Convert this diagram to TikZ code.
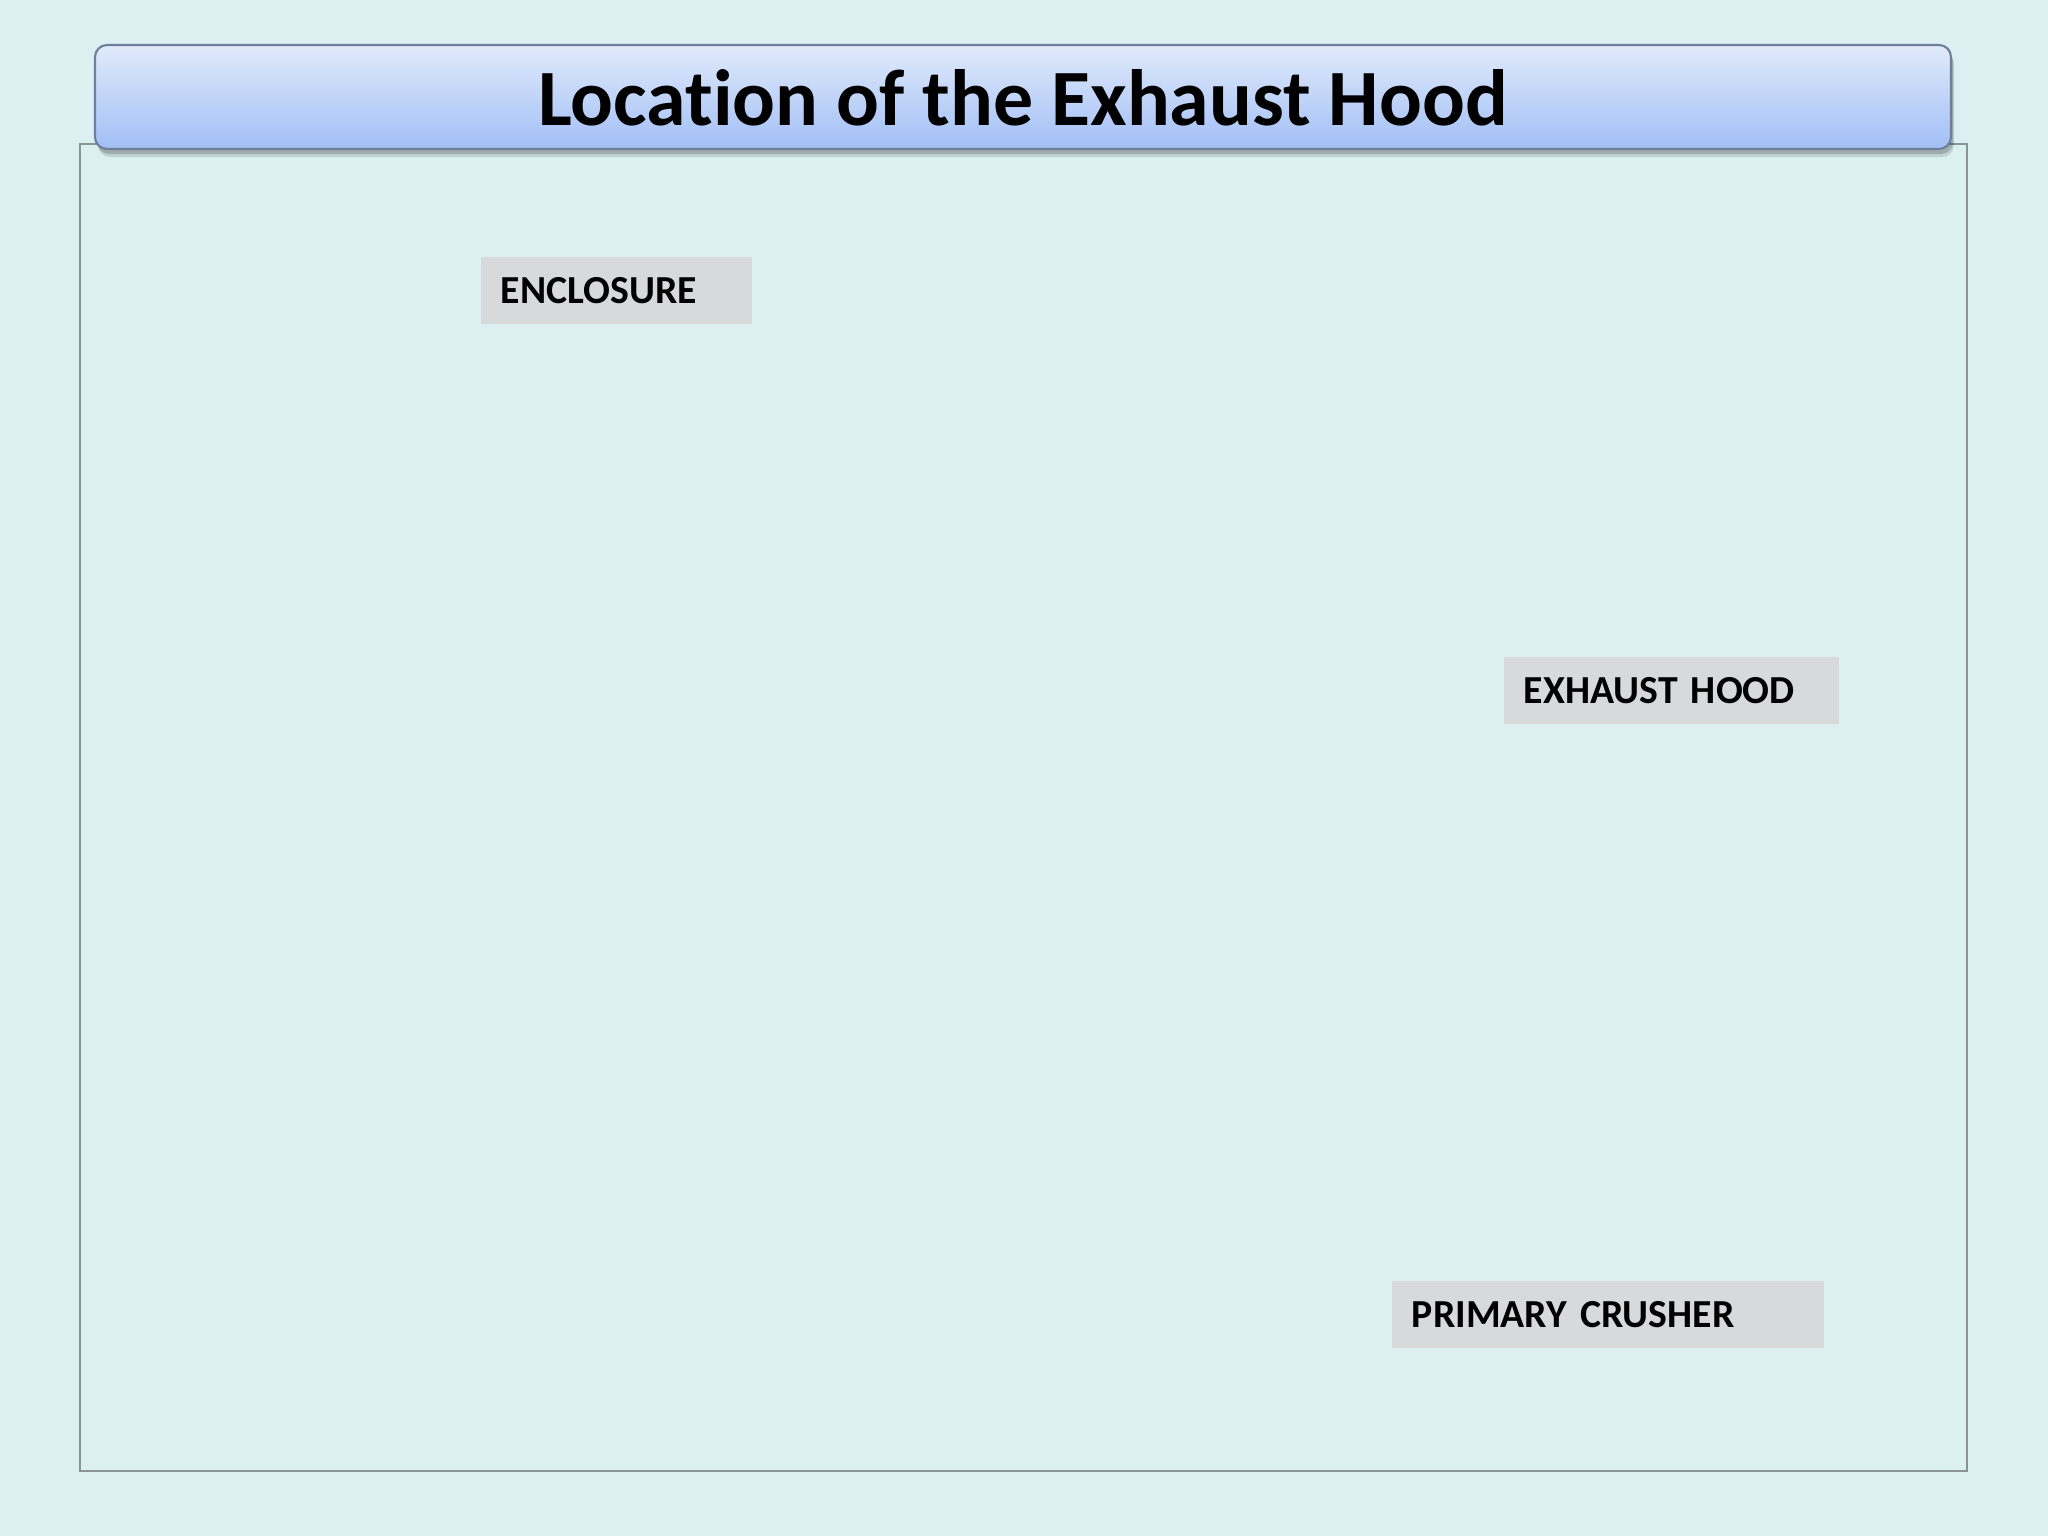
\documentclass[tikz,border=0pt]{standalone}
\usepackage{fontspec}
\setmainfont[Ligatures={NoCommon,NoRequired,NoContextual}]{Carlito}
\definecolor{bgcol}{HTML}{DDF0F1}
\definecolor{bartop}{HTML}{E0EAFB}
\definecolor{barbot}{HTML}{A2BFF6}
\definecolor{barline}{HTML}{6E7F99}
\definecolor{labelfill}{HTML}{D8D9DB}
\definecolor{framecol}{HTML}{8A9496}
\tikzset{
  labelbox/.style={fill=labelfill, draw=none, minimum height=0.67cm, inner xsep=0.2cm,
    align=left, font=\fontsize{11.3}{13}\selectfont\bfseries, anchor=center},
  titlebar/.style={rounded corners=0.12cm, draw=barline, line width=0.6pt,
    top color=bartop, bottom color=barbot},
}
\begin{document}
\begin{tikzpicture}[x=0.01cm,y=-0.01cm]
\fill[bgcol] (0,0) rectangle (2048,1536);
\useasboundingbox (0,0) rectangle (2048,1536);
% frame
\draw[framecol, line width=0.5pt] (80,144) rectangle (1967,1471);
% title bar shadow
\fill[black, opacity=0.18, rounded corners=0.12cm] (97,50) rectangle (1953,154);
\fill[black, opacity=0.12, rounded corners=0.12cm] (98,52) rectangle (1954,157);
% title bar
\path[titlebar] (95,45) rectangle (1951,149);
\node[font=\fontsize{22.7}{27}\selectfont\bfseries, text=black] (title) at (1023,98) {Location of the Exhaust Hood};
% labels
\node[labelbox, minimum width=2.71cm, text width=2.31cm] (enc) at (616.5,290.5) {ENCLOSURE};
\node[labelbox, minimum width=3.35cm, text width=2.95cm] (hood) at (1671.5,690.5) {EXHAUST HOOD};
\node[labelbox, minimum width=4.32cm, text width=3.92cm] (crusher) at (1608,1314.5) {PRIMARY CRUSHER};
\end{tikzpicture}
\end{document}
